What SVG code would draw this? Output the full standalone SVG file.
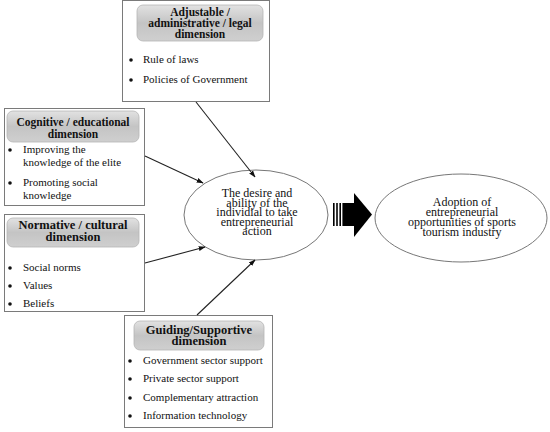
<svg xmlns="http://www.w3.org/2000/svg" width="550" height="432" viewBox="0 0 550 432">
<defs>
<linearGradient id="pill" x1="0" y1="0" x2="0" y2="1">
<stop offset="0" stop-color="#e2e2e2"/>
<stop offset="0.5" stop-color="#c4c4c4"/>
<stop offset="1" stop-color="#cfcfcf"/>
</linearGradient>
<marker id="ah" viewBox="0 0 10 10" refX="9" refY="5" markerWidth="7" markerHeight="7" orient="auto" markerUnits="userSpaceOnUse">
<path d="M0,1.5 L10,5 L0,8.5 Z" fill="#111"/>
</marker>
<style>
.box{fill:#fff;stroke:#7a7a7a;stroke-width:1}
.pill{fill:url(#pill);stroke:#b5b5b5;stroke-width:0.8}
.hd{font-weight:bold;fill:#111;text-anchor:middle}
.bt{font-size:11px;fill:#111}
.et{font-size:12px;fill:#111;text-anchor:middle}
.dot{fill:#111}
.ell{fill:#fff;stroke:#777;stroke-width:1}
.con{stroke:#222;stroke-width:1.1;fill:none;marker-end:url(#ah)}
</style>
</defs>
<rect width="550" height="432" fill="#fff"/>
<g font-family="Liberation Serif, Times New Roman, serif">
<g id="adjustable">
<rect class="box" x="122.5" y="0.5" width="147" height="101"/>
<rect class="pill" x="137" y="5" width="126" height="36" rx="6"/>
<text class="hd" font-size="11.5" x="200" y="16">Adjustable /</text>
<text class="hd" font-size="11.5" x="200" y="27">administrative / legal</text>
<text class="hd" font-size="11.5" x="200" y="38">dimension</text>
<circle class="dot" cx="131" cy="60" r="1.8"/>
<text class="bt" x="143" y="63">Rule of laws</text>
<circle class="dot" cx="131" cy="80" r="1.8"/>
<text class="bt" x="143" y="83">Policies of Government</text>
</g>

<g id="cognitive">
<rect class="box" x="4.5" y="108.5" width="140" height="97"/>
<rect class="pill" x="7" y="111" width="132" height="31" rx="6"/>
<text class="hd" font-size="11.5" x="73" y="126">Cognitive / educational</text>
<text class="hd" font-size="11.5" x="73" y="138">dimension</text>
<circle class="dot" cx="10" cy="150" r="1.8"/>
<text class="bt" x="23" y="153">Improving the</text>
<text class="bt" x="23" y="166">knowledge of the elite</text>
<circle class="dot" cx="10" cy="183" r="1.8"/>
<text class="bt" x="23" y="186">Promoting social</text>
<text class="bt" x="23" y="199">knowledge</text>
</g>

<g id="normative">
<rect class="box" x="4.5" y="214.5" width="140" height="97"/>
<rect class="pill" x="7" y="218" width="132" height="29" rx="6"/>
<text class="hd" font-size="12.5" x="73" y="229">Normative / cultural</text>
<text class="hd" font-size="12.5" x="73" y="241">dimension</text>
<circle class="dot" cx="10" cy="268" r="1.8"/>
<text class="bt" x="23" y="271">Social norms</text>
<circle class="dot" cx="10" cy="286" r="1.8"/>
<text class="bt" x="23" y="289">Values</text>
<circle class="dot" cx="10" cy="304" r="1.8"/>
<text class="bt" x="23" y="307">Beliefs</text>
</g>

<g id="guiding">
<rect class="box" x="124.5" y="315.5" width="148" height="112"/>
<rect class="pill" x="134" y="321" width="130" height="29" rx="6"/>
<text class="hd" font-size="12.5" x="199" y="334">Guiding/Supportive</text>
<text class="hd" font-size="12.5" x="199" y="345">dimension</text>
<circle class="dot" cx="130" cy="361" r="1.8"/>
<text class="bt" x="143" y="364">Government sector support</text>
<circle class="dot" cx="130" cy="379" r="1.8"/>
<text class="bt" x="143" y="382">Private sector support</text>
<circle class="dot" cx="130" cy="398" r="1.8"/>
<text class="bt" x="143" y="401">Complementary attraction</text>
<circle class="dot" cx="130" cy="416" r="1.8"/>
<text class="bt" x="143" y="419">Information technology</text>
</g>

<g id="desire">
<ellipse class="ell" cx="256" cy="215" rx="72" ry="45"/>
<text class="et" x="257" y="197">The desire and</text>
<text class="et" x="257" y="206.5">ability of the</text>
<text class="et" x="257" y="216">individial to take</text>
<text class="et" x="257" y="225.5">entrepreneurial</text>
<text class="et" x="257" y="235">action</text>
</g>

<g id="adoption">
<ellipse class="ell" cx="461" cy="218" rx="86" ry="44"/>
<text class="et" x="462" y="206">Adoption of</text>
<text class="et" x="462" y="216">entrepreneurial</text>
<text class="et" x="462" y="226">opportunities of sports</text>
<text class="et" x="462" y="236">tourism industry</text>
</g>
</g>
<g id="connectors">
<line class="con" x1="196" y1="102" x2="255" y2="177"/>
<line class="con" x1="145" y1="156" x2="203" y2="183"/>
<line class="con" x1="145" y1="263" x2="205" y2="247"/>
<line class="con" x1="197" y1="315" x2="255" y2="260"/>
<g id="bigarrow" fill="#000">
<rect x="333" y="203" width="1.6" height="23"/>
<rect x="336.2" y="203" width="1.6" height="23"/>
<rect x="339.4" y="203" width="1.6" height="23"/>
<rect x="342.4" y="203" width="12" height="23"/>
<polygon points="354,193 372,214.5 354,237"/>
</g>
</g>
</svg>
